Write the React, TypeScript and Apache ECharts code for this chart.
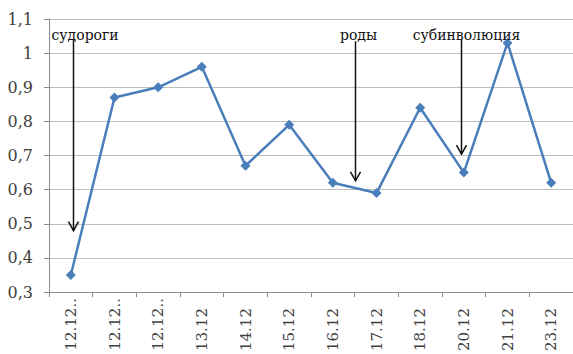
import React, { useEffect, useRef } from "react";
import * as echarts from "echarts";

const categories = ["12.12..", "12.12..", "12.12..", "13.12", "14.12", "15.12", "16.12", "17.12", "18.12", "20.12", "21.12", "23.12"];
const values = [0.35, 0.87, 0.9, 0.96, 0.67, 0.79, 0.62, 0.59, 0.84, 0.65, 1.03, 0.62];
const yTicks = { min: 0.3, max: 1.1, interval: 0.1 };

// annotations: label, category position (index, may lie between two), arrow top value, arrow tip value
const annLabels = ["судороги", "роды", "субинволюция"];
const annPos = [0.04, 6.5, 8.93];
const annTop = [1.04, 1.035, 1.04];
const annTip = [0.48, 0.626, 0.704];
const annTextShift = [-22, 3, 5];
const annTextAlign = ["left", "center", "center"];

const SERIF = "DejaVu Serif";

export default function App() {
  const ref = useRef<HTMLDivElement>(null);
  useEffect(() => {
    const chart = echarts.init(ref.current!, undefined, { renderer: "svg" });
    const fmt = (v: number) => String(Number(v.toFixed(1))).replace(".", ",");
    chart.setOption({
      animation: false,
      backgroundColor: "#ffffff",
      grid: { left: 49, right: -6, top: 19, bottom: 60, containLabel: false },
      xAxis: {
        type: "category",
        data: categories,
        boundaryGap: true,
        axisLine: { lineStyle: { color: "#8c8c8c", width: 1 } },
        axisTick: { show: true, alignWithLabel: false, length: 5, lineStyle: { color: "#8c8c8c" } },
        axisLabel: {
          rotate: 90,
          interval: 0,
          margin: 6,
          fontFamily: SERIF,
          fontSize: 15,
          color: "#404040",
          formatter: (v: string) => (v.endsWith("..") ? v : "{p|" + v + "}"),
          rich: { p: { padding: [0, 10, 0, 0], fontFamily: SERIF, fontSize: 15, color: "#404040" } },
        },
      },
      yAxis: {
        type: "value",
        min: yTicks.min,
        max: yTicks.max,
        interval: yTicks.interval,
        axisLine: { show: true, lineStyle: { color: "#8c8c8c", width: 1 } },
        axisTick: { show: true, length: 5, lineStyle: { color: "#8c8c8c" } },
        splitLine: { lineStyle: { color: "#bdbdbd", width: 1 } },
        axisLabel: { formatter: fmt, margin: 16, fontFamily: SERIF, fontSize: 16, color: "#404040" },
      },
      series: [
        {
          type: "line",
          data: values,
          symbol: "diamond",
          symbolSize: 10,
          lineStyle: { color: "#4a7ebb", width: 2.5 },
          itemStyle: { color: "#4a7ebb" },
        },
      ],
    });

    const px = (pos: number, v: number) => {
      const i0 = Math.floor(pos);
      const i1 = Math.min(i0 + 1, categories.length - 1);
      const f = pos - i0;
      const a = chart.convertToPixel({ gridIndex: 0 }, [i0, v]) as number[];
      const b = chart.convertToPixel({ gridIndex: 0 }, [i1, v]) as number[];
      return [a[0] + (b[0] - a[0]) * f, a[1]];
    };

    const graphics: any[] = [];
    annLabels.forEach((label, k) => {
      const top = px(annPos[k], annTop[k]);
      const tip = px(annPos[k], annTip[k]);
      const x = Math.round(top[0]) + 0.5;
      graphics.push({ type: "line", shape: { x1: x, y1: top[1], x2: x, y2: tip[1] }, style: { stroke: "#111", lineWidth: 1.5 }, z: 10 });
      graphics.push({
        type: "polyline",
        shape: { points: [[x - 5, tip[1] - 9], [x, tip[1]], [x + 5, tip[1] - 9]] },
        style: { stroke: "#111", lineWidth: 1.5, fill: "none" },
        z: 10,
      });
      graphics.push({
        type: "text",
        x: x + annTextShift[k],
        y: 35,
        style: { text: label, fontFamily: SERIF, fontSize: 14, fill: "#111", textAlign: annTextAlign[k], textVerticalAlign: "middle" },
        z: 11,
      });
    });
    chart.setOption({ graphic: graphics });

    return () => chart.dispose();
  }, []);
  return <div ref={ref} style={{ width: 573, height: 354, position: "absolute", left: 0, top: 0 }} />;
}
